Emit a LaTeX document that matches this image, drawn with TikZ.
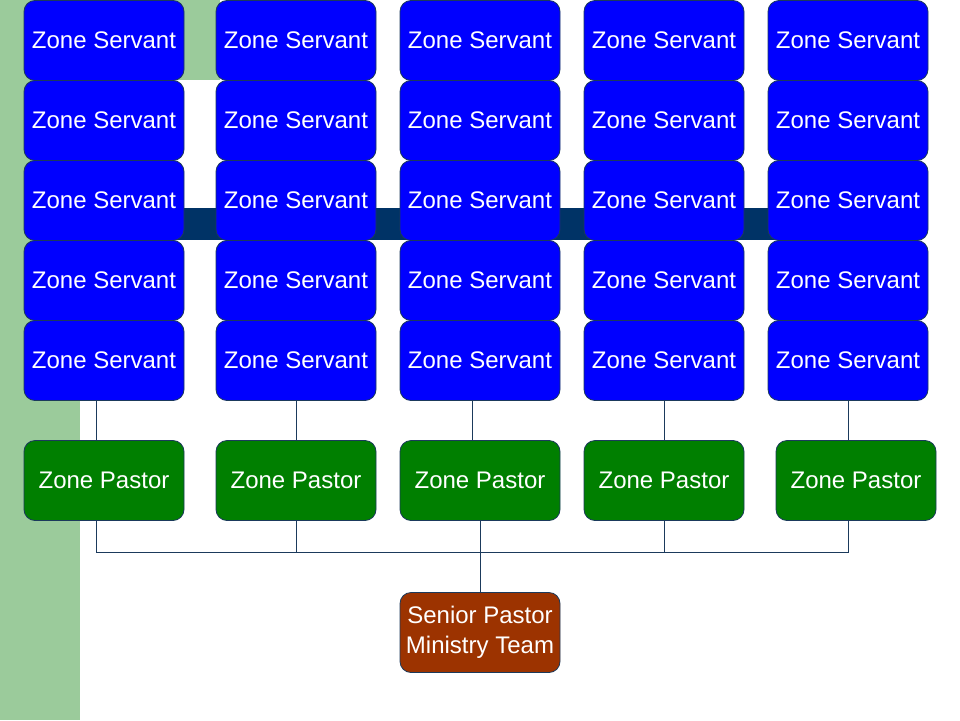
\documentclass[tikz,border=0pt]{standalone}
\usepackage{fontspec}
\setmainfont{Liberation Sans}
\definecolor{bandgreen}{HTML}{9BCB9B}
\definecolor{barblue}{HTML}{003366}
\definecolor{servblue}{HTML}{0000FF}
\definecolor{pastgreen}{HTML}{007F00}
\definecolor{senbrown}{HTML}{9C3300}
\definecolor{edge}{HTML}{1B3A5C}
\begin{document}
\begin{tikzpicture}[x=1pt,y=-1pt,
  box/.style={draw=edge,line width=0.8pt,rounded corners=11pt,anchor=north west,
    minimum width=160pt,minimum height=80pt,inner sep=0pt,outer sep=0pt,
    text=white,font=\fontsize{24}{30}\selectfont,align=center},
  servant/.style={box,fill=servblue},
  pastor/.style={box,fill=pastgreen},
  senior/.style={box,fill=senbrown},
  conn/.style={draw=edge,line width=0.8pt}]
\useasboundingbox (0,0) rectangle (960,720);
% background shapes
\fill[bandgreen] (0,0) rectangle (80,720);
\fill[bandgreen] (0,0) rectangle (220,80);
\fill[barblue] (160,208) rectangle (800,240);
% servant grid
\foreach \c/\x in {1/24,2/216,3/400,4/584,5/768}{
  \foreach \r in {1,...,5}{
    \node[servant] (s\c\r) at (\x,{(\r-1)*80+0.5}) {Zone Servant};
  }
}
% pastors
\node[pastor] (p1) at (24,440.5) {Zone Pastor};
\node[pastor] (p2) at (216,440.5) {Zone Pastor};
\node[pastor] (p3) at (400,440.5) {Zone Pastor};
\node[pastor] (p4) at (584,440.5) {Zone Pastor};
\node[pastor] (p5) at (776,440.5) {Zone Pastor};
% senior
\node[senior] (sen) at (400,592.5) {Senior Pastor\\Ministry Team};
% connectors servants -> pastors
\draw[conn] ([xshift=-8pt]s15.south) -- ([xshift=-8pt]p1.north);
\draw[conn] (s25.south) -- (p2.north);
\draw[conn] ([xshift=-8pt]s35.south) -- ([xshift=-8pt]p3.north);
\draw[conn] (s45.south) -- (p4.north);
\draw[conn] (s55.south) -- ([xshift=-8pt]p5.north);
% bus
\coordinate (busL) at (96,552);
\coordinate (busR) at (848,552);
\draw[conn] ([xshift=-8pt]p1.south) -- (busL) -- (busR) -- ([xshift=-8pt]p5.south);
\draw[conn] (p2.south) -- (p2.south |- busL);
\draw[conn] (p4.south) -- (p4.south |- busL);
\draw[conn] (p3.south) -- (sen.north);
\end{tikzpicture}
\end{document}
